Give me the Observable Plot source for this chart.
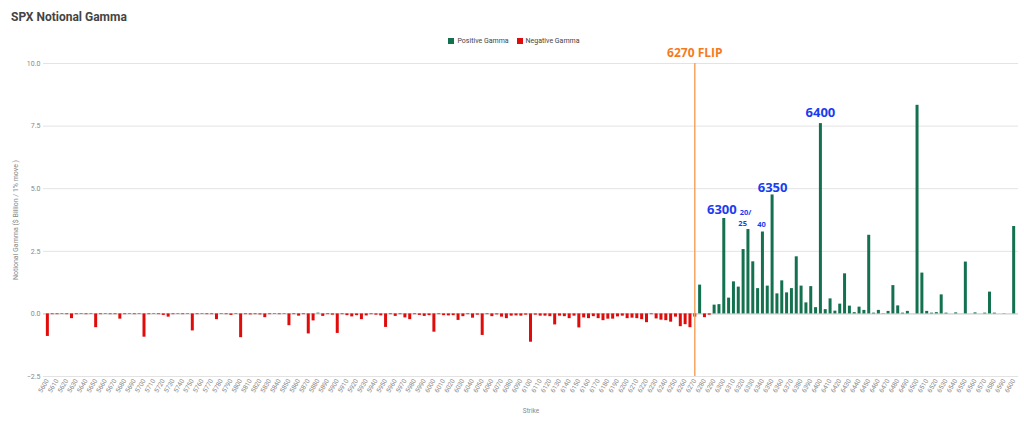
<!DOCTYPE html>
<html>
<head>
<meta charset="utf-8">
<script src="https://cdn.jsdelivr.net/npm/d3@7"></script>
<script src="https://cdn.jsdelivr.net/npm/@observablehq/plot@0.6"></script>
<style>
  html, body { margin: 0; padding: 0; background: #fff; }
  #wrap { position: relative; width: 1024px; height: 423px; overflow: hidden; font-family: Roboto, "Liberation Sans", sans-serif; }
  #title { position: absolute; left: 11px; top: 10px; font-size: 12px; font-weight: bold; color: #444; }
  #legend { position: absolute; top: 37px; left: 0; width: 1028px; text-align: center; font-size: 7px; color: #444; }
  #legend span.item { display: inline-flex; align-items: center; margin: 0 4px; }
  #legend span.sw { display: inline-block; width: 6px; height: 6px; margin-right: 3px; }
  #chart { position: absolute; left: 0; top: 0; }
</style>
</head>
<body>
<div id="wrap">
  <div id="chart"></div>
  <div id="title">SPX Notional Gamma</div>
  <div id="legend"></div>
</div>
<script>
// Strike categories (every 5 points)
const strikes = [
  5600,5605,5610,5615,5620,5625,5630,5635,5640,5645,5650,5655,5660,5665,5670,5675,5680,5685,5690,5695,
  5700,5705,5710,5715,5720,5725,5730,5735,5740,5745,5750,5755,5760,5765,5770,5775,5780,5785,5790,5795,
  5800,5805,5810,5815,5820,5825,5830,5835,5840,5845,5850,5855,5860,5865,5870,5875,5880,5885,5890,5895,
  5900,5905,5910,5915,5920,5925,5930,5935,5940,5945,5950,5955,5960,5965,5970,5975,5980,5985,5990,5995,
  6000,6005,6010,6015,6020,6025,6030,6035,6040,6045,6050,6055,6060,6065,6070,6075,6080,6085,6090,6095,
  6100,6105,6110,6115,6120,6125,6130,6135,6140,6145,6150,6155,6160,6165,6170,6175,6180,6185,6190,6195,
  6200,6205,6210,6215,6220,6225,6230,6235,6240,6245,6250,6255,6260,6265,6270,6275,6280,6285,6290,6295,
  6300,6305,6310,6315,6320,6325,6330,6335,6340,6345,6350,6355,6360,6365,6370,6375,6380,6385,6390,6395,
  6400,6405,6410,6415,6420,6425,6430,6435,6440,6445,6450,6455,6460,6465,6470,6475,6480,6485,6490,6495,
  6500,6505,6510,6515,6520,6525,6530,6535,6540,6545,6550,6555,6560,6565,6570,6575,6580,6585,6590,6595,
  6600
];
// Notional gamma ($ Billion / 1% move), one value per strike
const gamma = [
  -0.90,-0.03,-0.03,-0.02,-0.03,-0.19,-0.03,-0.02,-0.03,-0.02,-0.55,-0.03,-0.02,-0.03,-0.03,-0.21,-0.03,-0.02,-0.03,-0.02,
  -0.93,-0.03,-0.02,-0.03,-0.06,-0.13,-0.03,-0.02,-0.03,-0.02,-0.68,-0.03,-0.02,-0.03,-0.03,-0.23,-0.02,-0.03,-0.06,-0.02,
  -0.95,-0.03,-0.04,-0.03,-0.04,-0.15,-0.03,-0.02,-0.03,-0.02,-0.47,-0.03,-0.09,-0.03,-0.80,-0.28,0.03,-0.10,-0.03,-0.05,
  -0.78,-0.03,-0.07,-0.12,-0.07,-0.23,-0.08,-0.03,-0.05,-0.08,-0.54,-0.03,-0.10,-0.03,-0.16,-0.23,-0.03,-0.06,-0.10,-0.07,
  -0.73,-0.03,-0.07,-0.08,-0.07,-0.26,-0.11,-0.03,-0.17,-0.05,-0.86,-0.03,-0.11,-0.04,-0.13,-0.19,-0.09,-0.08,-0.09,-0.05,
  -1.13,-0.05,-0.09,-0.09,-0.11,-0.44,-0.09,-0.11,-0.19,-0.09,-0.56,-0.16,-0.19,-0.11,-0.19,-0.27,-0.21,-0.21,-0.12,-0.09,
  -0.19,-0.17,-0.19,-0.23,-0.35,-0.03,-0.20,-0.25,-0.27,-0.33,-0.13,-0.51,-0.43,-0.55,-0.13,1.15,-0.15,-0.05,0.35,0.37,
  3.81,0.63,1.28,1.07,2.57,3.37,2.08,1.01,3.27,1.11,4.75,0.80,1.32,0.84,1.01,2.28,1.11,0.44,1.09,0.25,
  7.60,0.17,0.60,0.11,0.39,1.60,0.31,0.05,0.27,0.14,3.14,0.03,0.14,0.01,0.10,1.13,0.32,0.03,0.10,0.00,
  8.33,1.63,0.10,0.03,0.05,0.76,0.03,0.00,0.04,0.00,2.07,0.00,0.04,0.00,0.03,0.87,0.03,0.00,0.01,0.00,
  3.49
];
const seriesNames = ["Positive Gamma", "Negative Gamma"];
const seriesColors = ["#13714f", "#e00b0b"];
const yTicks = [-2.5, 0, 2.5, 5, 7.5, 10];
const xTickLabels = strikes.filter(s => s % 10 === 0);
const flipStrike = 6270;
const flipLabel = "6270 FLIP";
// Annotation labels (text, strike, gamma level)
const bigNotes = [
  {text: "6300", strike: 6298, level: 4.16},
  {text: "6350", strike: 6350.5, level: 5.04},
  {text: "6400", strike: 6400, level: 8.04}
];
const smallNotes = [
  {text: "20/", strike: 6322.5, level: 4.04},
  {text: "25", strike: 6319.5, level: 3.6},
  {text: "40", strike: 6339, level: 3.56}
];

const data = strikes.map((s, i) => ({strike: s, value: gamma[i], series: gamma[i] >= 0 ? seriesNames[0] : seriesNames[1]}));

// Legend
const legend = document.getElementById("legend");
seriesNames.forEach((n, i) => {
  const it = document.createElement("span");
  it.className = "item";
  it.innerHTML = `<span class="sw" style="background:${seriesColors[i]}"></span>${n}`;
  legend.appendChild(it);
});

const chart = Plot.plot({
  width: 1024,
  height: 423,
  marginTop: 63,
  marginBottom: 47,
  marginLeft: 43,
  marginRight: 6,
  style: {fontFamily: "Roboto, 'Liberation Sans', sans-serif", background: "transparent"},
  x: {type: "linear", domain: [5596, 6605]},
  y: {domain: [-2.5, 10]},
  color: {domain: seriesNames, range: seriesColors},
  marks: [
    Plot.gridY(yTicks, {stroke: "#e3e3e3", strokeOpacity: 1, strokeWidth: 1}),
    Plot.ruleY([0], {stroke: "#cfcfcf", strokeWidth: 1}),
    Plot.axisY(yTicks, {tickSize: 0, tickPadding: 3, tickFormat: d3.format(".1f"), fontSize: 7, fill: "#888",
      label: "Notional Gamma ($ Billion / 1% move )", labelAnchor: "center", labelOffset: 30, labelArrow: "none"}),
    Plot.axisX(xTickLabels, {tickSize: 0, tickRotate: -60, tickPadding: 3, tickFormat: d => String(d), fontSize: 6.5, fill: "#888",
      label: "Strike", labelAnchor: "center", labelOffset: 36, labelArrow: "none"}),
    Plot.ruleX(data, {x: "strike", y1: 0, y2: "value", stroke: "series", strokeWidth: 3}),
    Plot.ruleX([flipStrike], {y1: -2.5, y2: 10, stroke: "#f7a461", strokeWidth: 1.5}),
    Plot.text([flipLabel], {x: flipStrike, y: 10.4, text: d => d, fill: "#f57a1e", fontSize: 12, fontWeight: "bold", fontFamily: "'Open Sans', sans-serif", clip: false}),
    Plot.text(bigNotes, {x: "strike", y: "level", text: "text", fill: "#1a3cf0", fontSize: 13, fontWeight: "bold", fontFamily: "'Open Sans', sans-serif"}),
    Plot.text(smallNotes, {x: "strike", y: "level", text: "text", fill: "#1a3cf0", fontSize: 7.5, fontWeight: "bold", fontFamily: "'Open Sans', sans-serif"})
  ]
});
document.getElementById("chart").appendChild(chart);
</script>
</body>
</html>
